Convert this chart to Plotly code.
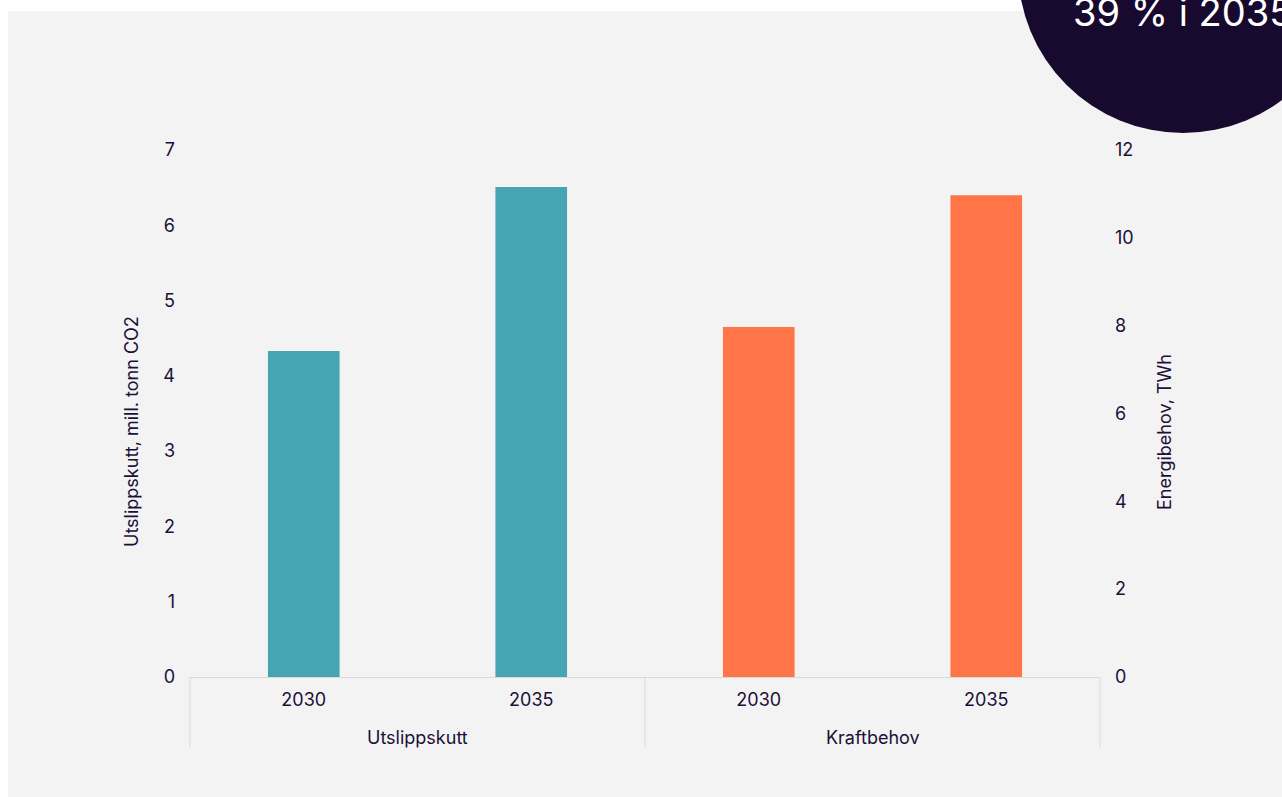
import plotly.graph_objects as go

# Data
groups = ["Utslippskutt", "Kraftbehov"]
years = ["2030", "2035"]
utslippskutt = [4.33, 6.51]   # mill. tonn CO2
kraftbehov = [7.97, 10.97]    # TWh

TEAL = "#46A5B2"
ORANGE = "#FF7548"
INK = "#1B1037"
CIRCLE = "#170A2E"
PANEL = "#F3F3F3"
LINE = "#D9D9D9"
FONT = "Inter, Roboto, Arial, sans-serif"
FS = 18

# Plot area in pixels (used for paper-coordinate placement of decorations)
W, H = 1282, 797
L, R, T, B = 190, 182, 150, 120
pw, ph = W - L - R, H - T - B


def px(x):
    return (x - L) / pw


def py(y):
    return (H - B - y) / ph


# One category per (group, year); ticks show the year, groups are labelled below
keys = [f"{g} {y}" for g in groups for y in years]
n = len(keys)

fig = go.Figure()
fig.add_trace(go.Bar(
    x=[f"{groups[0]} {y}" for y in years],
    y=utslippskutt,
    marker=dict(color=TEAL, line=dict(width=0)),
    width=0.315,
    yaxis="y",
    name="Utslippskutt",
    showlegend=False,
))
fig.add_trace(go.Bar(
    x=[f"{groups[1]} {y}" for y in years],
    y=kraftbehov,
    marker=dict(color=ORANGE, line=dict(width=0)),
    width=0.315,
    yaxis="y2",
    name="Kraftbehov",
    showlegend=False,
))

# Group dividers and group labels beneath the year ticks
per_group = len(years)
shapes = [
    dict(type="rect", xref="paper", yref="paper", layer="below",
         x0=px(8), x1=px(W + 5), y0=py(H + 5), y1=py(11),
         fillcolor=PANEL, line=dict(width=0)),
]
for i in range(len(groups) + 1):
    xd = i * per_group / n
    shapes.append(dict(type="line", xref="paper", yref="paper",
                       x0=xd, x1=xd, y0=0, y1=py(747),
                       line=dict(color=LINE, width=1)))
shapes.append(dict(type="circle", xref="paper", yref="paper", layer="above",
                   x0=px(1183 - 165), x1=px(1183 + 165),
                   y0=py(-32 + 165), y1=py(-32 - 165),
                   fillcolor=CIRCLE, line=dict(width=0)))

annotations = []
for i, g in enumerate(groups):
    annotations.append(dict(text=g, xref="paper", yref="paper",
                            x=(i + 0.5) * per_group / n, y=py(737),
                            xanchor="center", yanchor="middle", showarrow=False,
                            font=dict(size=FS, color=INK)))
annotations += [
    dict(text="Utslippskutt, mill. tonn CO2", textangle=-90,
         xref="paper", yref="paper", x=px(131), y=py(432),
         xanchor="center", yanchor="middle", showarrow=False,
         font=dict(size=FS, color=INK)),
    dict(text="Energibehov, TWh", textangle=-90,
         xref="paper", yref="paper", x=px(1164), y=py(432),
         xanchor="center", yanchor="middle", showarrow=False,
         font=dict(size=FS, color=INK)),
    dict(text="39 % i 2035", xref="paper", yref="paper",
         x=px(1071), y=py(12), xanchor="left", yanchor="middle",
         showarrow=False, font=dict(size=38, color="white")),
]

fig.update_layout(
    width=W, height=H,
    margin=dict(l=L, r=R, t=T, b=B, pad=0),
    paper_bgcolor="white",
    plot_bgcolor="rgba(0,0,0,0)",
    font=dict(family=FONT, size=FS, color=INK),
    barmode="overlay",
    xaxis=dict(
        type="category",
        categoryorder="array", categoryarray=keys,
        tickmode="array", tickvals=keys, ticktext=[k.split(" ")[-1] for k in keys],
        showgrid=False,
        showline=True, linecolor=LINE, linewidth=1,
        ticks="", ticklabelstandoff=6,
        tickfont=dict(size=FS, color=INK),
        range=[-0.5, n - 0.5],
    ),
    yaxis=dict(
        range=[0, 7], dtick=1, showgrid=False, zeroline=False, showline=False,
        ticks="", ticklabelstandoff=14, tickfont=dict(size=FS, color=INK),
    ),
    yaxis2=dict(
        range=[0, 12], dtick=2, overlaying="y", side="right",
        showgrid=False, zeroline=False, showline=False,
        ticks="", ticklabelstandoff=14, tickfont=dict(size=FS, color=INK),
    ),
    shapes=shapes,
    annotations=annotations,
)

fig.write_html("out.html")
